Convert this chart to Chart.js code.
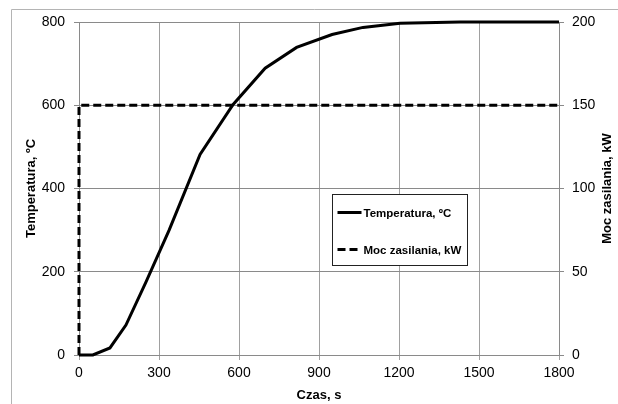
<!DOCTYPE html>
<html lang="pl">
<head>
    <meta charset="UTF-8">
    <title>Temperatura i moc zasilania</title>
    <script src="https://cdn.jsdelivr.net/npm/chart.js@4.4.0/dist/chart.umd.min.js"></script>
    <style>
        body { margin: 0; background: #ffffff; }
        #wrap { width: 618px; height: 404px; }
    </style>
</head>
<body>
    <div id="wrap"><canvas id="chart" width="618" height="404"></canvas></div>
    <script>
        // values
        const timeSec = [0, 52, 116, 176, 251, 338, 454, 578, 698, 816, 949, 1065, 1204, 1429, 1800];
        const tempC = [0, 0, 17, 72, 175, 300, 482, 602, 689, 739, 770, 787, 797, 800, 800];
        const powerTime = [0, 0, 1800];
        const powerKW = [0, 150, 150];

        const tempLabel = 'Temperatura, ºC';
        const powerLabel = 'Moc zasilania, kW';
        const xTitle = 'Czas, s';

        const FONT = '"Liberation Sans", Arial, sans-serif';
        const tickFont = { family: FONT, size: 14 };
        const titleFont = { family: FONT, size: 13, weight: 'bold' };
        const plain = v => String(v);

        // frame, legend box and right axis title
        const extras = {
            id: 'extras',
            beforeDraw(chart) {
                const ctx = chart.ctx;
                ctx.save();
                ctx.strokeStyle = '#b4b4b4';
                ctx.lineWidth = 1;
                ctx.beginPath();
                ctx.moveTo(11.5, 404);
                ctx.lineTo(11.5, 9.5);
                ctx.lineTo(618, 9.5);
                ctx.stroke();
                ctx.restore();
            },
            afterDraw(chart) {
                const ctx = chart.ctx;
                const a = chart.chartArea;
                ctx.save();

                // legend
                const bx = a.left + 253.5, by = a.top + 172.5, bw = 135, bh = 71;
                ctx.fillStyle = '#ffffff';
                ctx.fillRect(bx, by, bw, bh);
                ctx.strokeStyle = '#222';
                ctx.lineWidth = 1;
                ctx.strokeRect(bx, by, bw, bh);

                const items = chart.data.datasets;
                const rows = [by + 18, by + 55];
                ctx.font = 'bold 11.5px ' + FONT;
                ctx.textBaseline = 'middle';
                ctx.textAlign = 'left';
                items.forEach((ds, i) => {
                    ctx.beginPath();
                    ctx.strokeStyle = ds.borderColor;
                    ctx.lineWidth = 3;
                    ctx.setLineDash(ds.borderDash || []);
                    ctx.moveTo(bx + 5, rows[i]);
                    ctx.lineTo(bx + 29, rows[i]);
                    ctx.stroke();
                    ctx.setLineDash([]);
                    ctx.fillStyle = '#000';
                    ctx.fillText(ds.label, bx + 31, rows[i] + 1);
                });

                // right axis title, reading bottom to top
                ctx.translate(607, (a.top + a.bottom) / 2);
                ctx.rotate(-Math.PI / 2);
                ctx.font = 'bold 13px ' + FONT;
                ctx.textAlign = 'center';
                ctx.fillStyle = '#000';
                ctx.fillText(powerLabel, 0, 0);
                ctx.restore();
            }
        };

        new Chart(document.getElementById('chart'), {
            type: 'line',
            data: {
                datasets: [{
                    label: tempLabel,
                    data: timeSec.map((t, i) => ({ x: t, y: tempC[i] })),
                    borderColor: '#000000',
                    borderWidth: 3,
                    pointRadius: 0,
                    tension: 0,
                    clip: 4,
                    yAxisID: 'y'
                }, {
                    label: powerLabel,
                    data: powerTime.map((t, i) => ({ x: t, y: powerKW[i] })),
                    borderColor: '#000000',
                    borderWidth: 3,
                    borderDash: [8, 4],
                    pointRadius: 0,
                    tension: 0,
                    clip: 4,
                    yAxisID: 'y2'
                }]
            },
            options: {
                responsive: false,
                animation: false,
                layout: { padding: { top: 22, left: 0, right: 0, bottom: 0 } },
                plugins: {
                    legend: { display: false },
                    tooltip: { enabled: false }
                },
                scales: {
                    x: {
                        type: 'linear',
                        min: 0,
                        max: 1800,
                        afterFit: s => { s.height = 49; },
                        ticks: { stepSize: 300, font: tickFont, color: '#000', padding: 5, maxRotation: 0, callback: plain },
                        grid: { color: '#a0a0a0', tickLength: 5 },
                        border: { color: '#8a8a8a' },
                        title: { display: true, text: xTitle, font: titleFont, color: '#000', padding: { top: 0, bottom: 1 } }
                    },
                    y: {
                        position: 'left',
                        min: 0,
                        max: 800,
                        afterFit: s => { s.width = 79; },
                        ticks: { stepSize: 200, font: tickFont, color: '#000', padding: 9, callback: plain },
                        grid: { color: '#8a8a8a', tickLength: 5 },
                        border: { color: '#8a8a8a' },
                        title: { display: true, text: tempLabel, font: titleFont, color: '#000', padding: { top: 24, bottom: 0 } }
                    },
                    y2: {
                        position: 'right',
                        min: 0,
                        max: 200,
                        afterFit: s => { s.width = 59; },
                        ticks: { stepSize: 50, font: tickFont, color: '#000', padding: 8, callback: plain },
                        grid: { drawOnChartArea: false, color: '#8a8a8a', tickLength: 5 },
                        border: { color: '#8a8a8a' }
                    }
                }
            },
            plugins: [extras]
        });
    </script>
</body>
</html>
